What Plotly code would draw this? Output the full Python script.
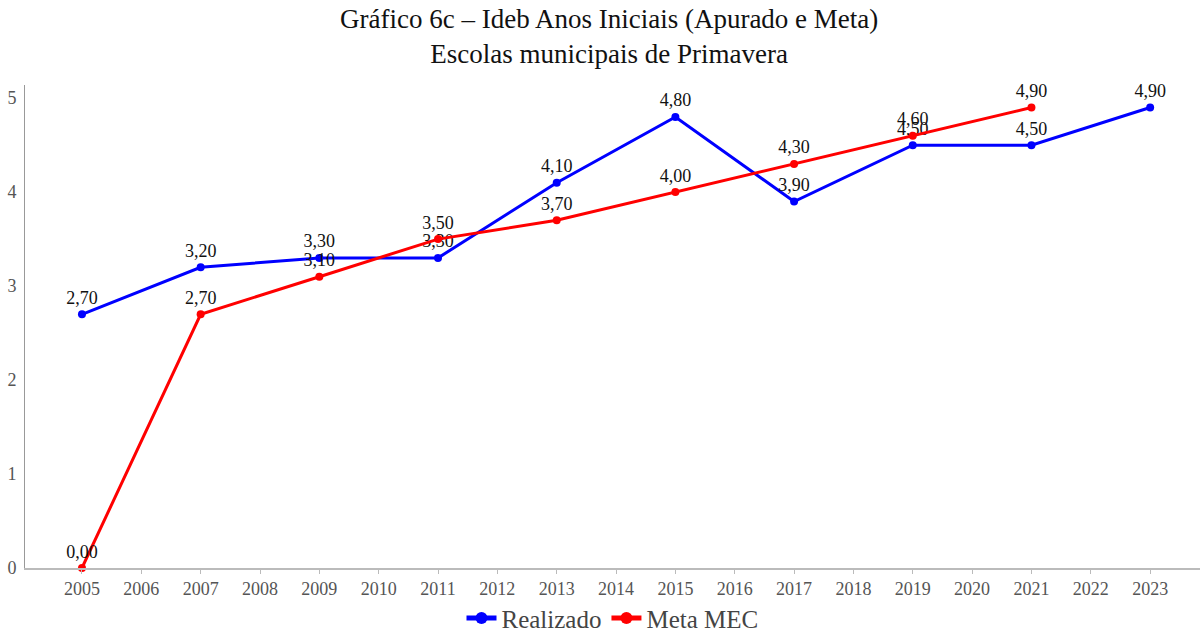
import plotly.graph_objects as go

# Ideb series for the municipal schools
anos_realizado = [2005, 2007, 2009, 2011, 2013, 2015, 2017, 2019, 2021, 2023]
realizado = [2.7, 3.2, 3.3, 3.3, 4.1, 4.8, 3.9, 4.5, 4.5, 4.9]

anos_meta = [2005, 2007, 2009, 2011, 2013, 2015, 2017, 2019, 2021]
meta_mec = [0.0, 2.7, 3.1, 3.5, 3.7, 4.0, 4.3, 4.6, 4.9]

x_ticks = list(range(2005, 2024))
y_ticks = [0, 1, 2, 3, 4, 5]


def rotulo(v):
    return f"{v:.2f}".replace(".", ",")


FONTE = "Liberation Serif, Times New Roman, serif"

fig = go.Figure()
fig.add_trace(go.Scatter(
    x=anos_realizado, y=realizado, name="Realizado",
    mode="lines+markers+text",
    line=dict(color="#0000ff", width=3),
    marker=dict(color="#0000ff", size=8),
    text=[rotulo(v) for v in realizado], textposition="top center",
    textfont=dict(family=FONTE, size=18, color="#111"),
    cliponaxis=False,
))
fig.add_trace(go.Scatter(
    x=anos_meta, y=meta_mec, name="Meta MEC",
    mode="lines+markers+text",
    line=dict(color="#ff0000", width=3),
    marker=dict(color="#ff0000", size=8),
    text=[rotulo(v) for v in meta_mec], textposition="top center",
    textfont=dict(family=FONTE, size=18, color="#111"),
    cliponaxis=False,
))

fig.add_annotation(
    text="Gráfico 6c – Ideb Anos Iniciais (Apurado e Meta)<br>Escolas municipais de Primavera",
    xref="paper", yref="paper", x=0.497, y=1.03,
    xanchor="center", yanchor="bottom", showarrow=False,
    font=dict(family=FONTE, size=27, color="#111"),
)

fig.update_layout(
    width=1203, height=633,
    margin=dict(l=25, r=3, t=85, b=65, autoexpand=False),
    paper_bgcolor="white", plot_bgcolor="white",
    font=dict(family=FONTE, color="#444"),
    showlegend=True,
    legend=dict(
        orientation="h", x=0.5, xanchor="center", y=-0.104, yanchor="middle",
        font=dict(family=FONTE, size=25, color="#444"),
        tracegroupgap=0, itemsizing="constant",
    ),
    xaxis=dict(
        range=[2004.04, 2023.84], tickmode="array", tickvals=x_ticks,
        ticktext=[str(a) for a in x_ticks],
        showgrid=False, zeroline=False,
        showline=True, linecolor="#bbb", linewidth=1.5,
        ticks="outside", ticklen=4, tickcolor="#bbb",
        tickfont=dict(family=FONTE, size=18, color="#555"),
    ),
    yaxis=dict(
        range=[0, 5.14], tickmode="array", tickvals=y_ticks,
        showgrid=False, zeroline=False,
        showline=True, linecolor="#999", linewidth=1,
        ticks="", ticklabelstandoff=4,
        tickfont=dict(family=FONTE, size=18, color="#555"),
    ),
)

fig.write_html("out.html")
